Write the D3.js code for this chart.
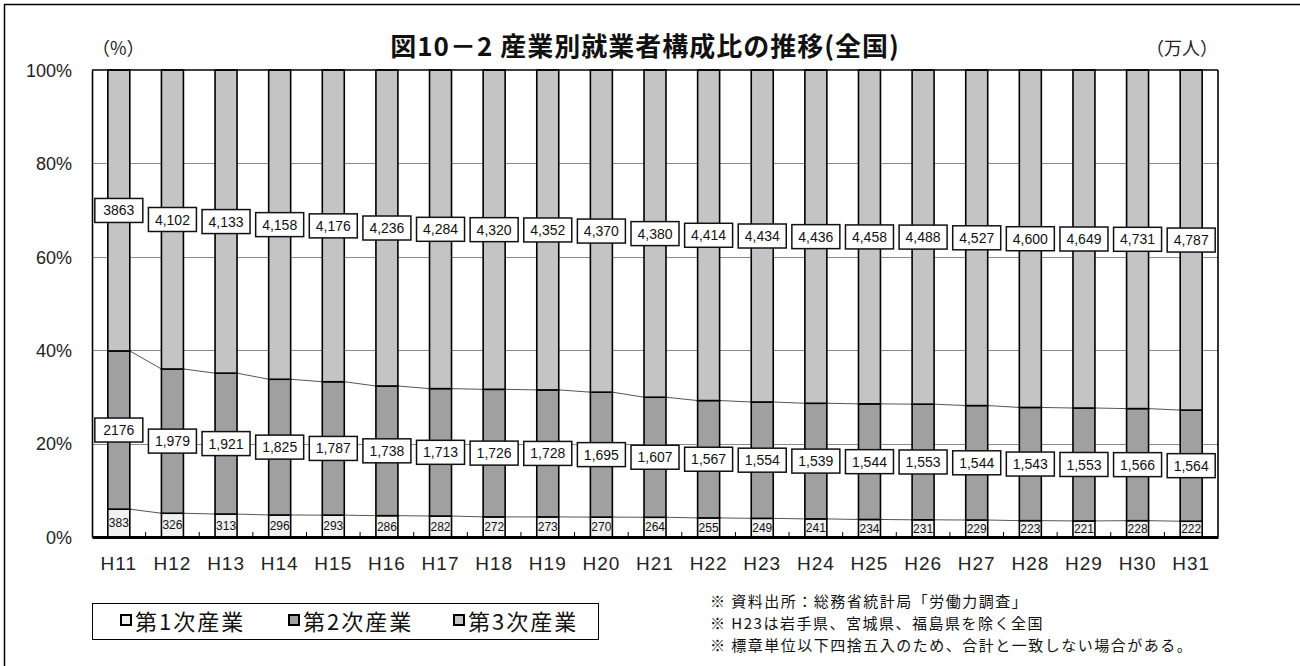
<!DOCTYPE html>
<html lang="ja">
<head>
<meta charset="utf-8">
<script src="https://cdn.jsdelivr.net/npm/d3@7"></script>
<style>
  html, body { margin: 0; padding: 0; background: #fff; }
  svg { display: block; }
  .num { font-family: "Liberation Sans", Arial, sans-serif; }
  .jp { font-family: "Noto Sans CJK JP", sans-serif; }
</style>
</head>
<body>
<svg id="chart" width="1300" height="666"></svg>
<script>
// 年次（平成）
const categories = ["H11","H12","H13","H14","H15","H16","H17","H18","H19","H20","H21",
                    "H22","H23","H24","H25","H26","H27","H28","H29","H30","H31"];
// 就業者数（万人）
const primary   = [383, 326, 313, 296, 293, 286, 282, 272, 273, 270, 264,
                   255, 249, 241, 234, 231, 229, 223, 221, 228, 222];
const secondary = [2176, 1979, 1921, 1825, 1787, 1738, 1713, 1726, 1728, 1695, 1607,
                   1567, 1554, 1539, 1544, 1553, 1544, 1543, 1553, 1566, 1564];
const tertiary  = [3863, 4102, 4133, 4158, 4176, 4236, 4284, 4320, 4352, 4370, 4380,
                   4414, 4434, 4436, 4458, 4488, 4527, 4600, 4649, 4731, 4787];
const seriesNames = ["第1次産業", "第2次産業", "第3次産業"];
const yTicks = [0, 0.2, 0.4, 0.6, 0.8, 1.0];
const titleText = "図10－2 産業別就業者構成比の推移(全国)";
const notes = [
  "※ 資料出所：総務省統計局「労働力調査」",
  "※ H23は岩手県、宮城県、福島県を除く全国",
  "※ 標章単位以下四捨五入のため、合計と一致しない場合がある。"
];

const fills = ["#f0f0f0", "#a0a0a0", "#c4c4c4"];

const svg = d3.select("#chart");

// 外枠
svg.append("line").attr("x1", 4).attr("x2", 1300).attr("y1", 4.5).attr("y2", 4.5)
  .attr("stroke", "#000").attr("stroke-width", 1.5);
svg.append("line").attr("x1", 4.5).attr("x2", 4.5).attr("y1", 4).attr("y2", 666)
  .attr("stroke", "#000").attr("stroke-width", 1.5);

const plot = { left: 92, right: 1218, top: 70, bottom: 537 };

const x = d3.scaleBand().domain(categories)
  .range([plot.left, plot.right]).paddingInner(0.59).paddingOuter(0.295);
const y = d3.scaleLinear().domain([0, 1]).range([plot.bottom, plot.top]);

// 構成比の積み上げ
const rows = categories.map((c, i) => ({ cat: c, v: [primary[i], secondary[i], tertiary[i]] }));
const stacked = rows.map(r => {
  const total = d3.sum(r.v);
  let acc = 0;
  return r.v.map((v, k) => {
    const y0 = acc / total; acc += v; const y1 = acc / total;
    return { cat: r.cat, k, v, y0, y1 };
  });
});

// 目盛線
svg.append("g").selectAll("line").data(yTicks.filter(t => t > 0 && t < 1)).join("line")
  .attr("x1", plot.left).attr("x2", plot.right)
  .attr("y1", d => Math.round(y(d)) + 0.5).attr("y2", d => Math.round(y(d)) + 0.5)
  .attr("stroke", "#8a8a8a").attr("stroke-width", 1);

// 区分線（系列線）
const lineG = svg.append("g");
for (let k = 0; k < 2; k++) {
  for (let i = 0; i < categories.length - 1; i++) {
    const a = stacked[i][k], b = stacked[i + 1][k];
    lineG.append("line")
      .attr("x1", x(a.cat) + x.bandwidth()).attr("y1", y(a.y1))
      .attr("x2", x(b.cat)).attr("y2", y(b.y1))
      .attr("stroke", "#555").attr("stroke-width", 1);
  }
}

// 棒
const barG = svg.append("g");
stacked.forEach(segs => {
  barG.selectAll(null).data(segs).join("rect")
    .attr("x", d => x(d.cat))
    .attr("y", d => y(d.y1))
    .attr("width", x.bandwidth())
    .attr("height", d => y(d.y0) - y(d.y1))
    .attr("fill", d => fills[d.k])
    .attr("stroke", "#000").attr("stroke-width", 1.6);
});

// 枠と軸
svg.append("line").attr("x1", plot.left).attr("x2", plot.right)
  .attr("y1", plot.top).attr("y2", plot.top).attr("stroke", "#000").attr("stroke-width", 1.6);
svg.append("line").attr("x1", plot.right).attr("x2", plot.right)
  .attr("y1", plot.top).attr("y2", plot.bottom).attr("stroke", "#000").attr("stroke-width", 1.6);

const yAxis = d3.axisLeft(y).tickValues(yTicks).tickSize(0).tickPadding(20)
  .tickFormat(d => Math.round(d * 100) + "%");
const gy = svg.append("g").attr("transform", `translate(${plot.left},0)`).call(yAxis);
gy.select(".domain").attr("stroke", "#000").attr("stroke-width", 1.6);
gy.selectAll("text").attr("font-size", 18).attr("fill", "#222")
  .attr("font-family", "Liberation Sans, Arial, sans-serif").attr("dy", "0.35em");

// 区分目盛（内向き）
const bounds = d3.range(1, categories.length).map(i => plot.left + x.step() * i);
svg.append("g").selectAll("line").data(bounds).join("line")
  .attr("x1", d => d).attr("x2", d => d)
  .attr("y1", plot.bottom).attr("y2", plot.bottom - 5)
  .attr("stroke", "#000").attr("stroke-width", 1);

const xAxis = d3.axisBottom(x).tickSize(0).tickPadding(20);
const gx = svg.append("g").attr("transform", `translate(0,${plot.bottom})`).call(xAxis);
gx.select(".domain").attr("stroke", "#000").attr("stroke-width", 3);
gx.selectAll("text").attr("font-size", 19).attr("fill", "#222")
  .attr("letter-spacing", 1)
  .attr("font-family", "Liberation Sans, Arial, sans-serif").attr("dy", "0.71em");

// データラベル
const labG = svg.append("g");
const fmt = d3.format(",");
stacked.forEach((segs, i) => {
  const cx = x(segs[0].cat) + x.bandwidth() / 2;
  segs.forEach(d => {
    const cy = y((d.y0 + d.y1) / 2);
    const txt = (i === 0 && d.k > 0) ? String(d.v) : fmt(d.v);
    if (d.k === 0) {
      labG.append("text").attr("class", "num")
        .attr("x", cx).attr("y", cy).attr("dy", "0.36em")
        .attr("text-anchor", "middle").attr("font-size", 12).attr("fill", "#111")
        .text(txt);
    } else {
      const w = 48, h = 24;
      labG.append("rect").attr("x", cx - w / 2).attr("y", cy - h / 2)
        .attr("width", w).attr("height", h)
        .attr("fill", "#fff").attr("stroke", "#111").attr("stroke-width", 1.5);
      labG.append("text").attr("class", "num")
        .attr("x", cx).attr("y", cy).attr("dy", "0.36em")
        .attr("text-anchor", "middle").attr("font-size", 14).attr("fill", "#111")
        .text(txt);
    }
  });
});

// 表題と単位
svg.append("text").attr("class", "jp").attr("x", 645).attr("y", 56)
  .attr("text-anchor", "middle").attr("font-size", 26).attr("font-weight", "bold")
  .attr("letter-spacing", 1).attr("fill", "#111").text(titleText);
svg.append("text").attr("class", "jp").attr("x", 92).attr("y", 55)
  .attr("font-size", 18).attr("fill", "#222").text("（%）");
svg.append("text").attr("class", "jp").attr("x", 1218).attr("y", 55)
  .attr("text-anchor", "end").attr("font-size", 18).attr("fill", "#222").text("（万人）");

// 凡例
const leg = svg.append("g");
leg.append("rect").attr("x", 92.5).attr("y", 603.5).attr("width", 506).attr("height", 36)
  .attr("fill", "#fff").attr("stroke", "#000").attr("stroke-width", 1);
const legX = [121, 289, 454];
seriesNames.forEach((name, k) => {
  leg.append("rect").attr("x", legX[k]).attr("y", 615).attr("width", 10).attr("height", 10)
    .attr("fill", fills[k]).attr("stroke", "#000").attr("stroke-width", 2);
  leg.append("text").attr("class", "jp").attr("x", legX[k] + 14).attr("y", 630)
    .attr("font-size", 22).attr("letter-spacing", 2).attr("fill", "#111").text(name);
});

// 注記
svg.append("g").selectAll("text").data(notes).join("text")
  .attr("class", "jp").attr("x", 710).attr("y", (d, i) => 607 + i * 22)
  .attr("font-size", 15).attr("letter-spacing", 1.5).attr("fill", "#111").text(d => d);
</script>
</body>
</html>
